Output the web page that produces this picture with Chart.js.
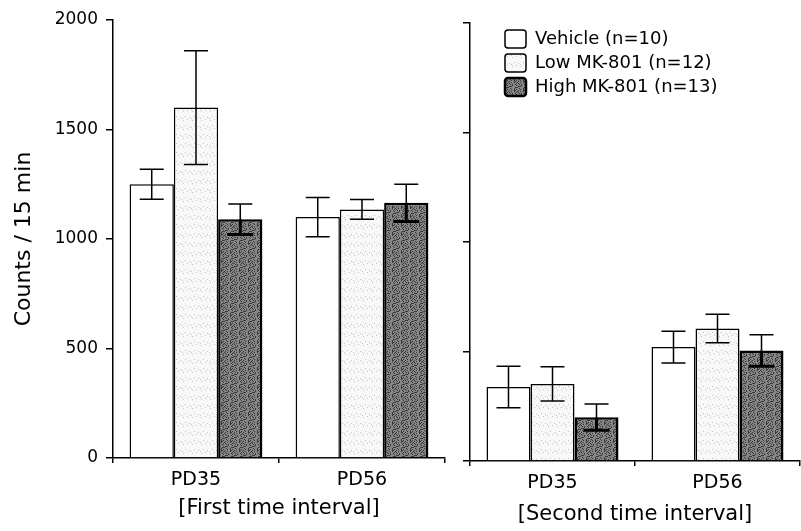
<!DOCTYPE html>
<html>
<head>
<meta charset="utf-8">
<script src="https://cdn.jsdelivr.net/npm/chart.js@4.4.0/dist/chart.umd.min.js"></script>
<style>
  html, body { margin: 0; padding: 0; background: #fff; }
  #wrap { position: relative; width: 801px; height: 531px; }
  #left { position: absolute; left: 0; top: 0; }
  #right { position: absolute; left: 455px; top: 0; }
</style>
</head>
<body>
<div id="wrap">
  <canvas id="left" width="460" height="531"></canvas>
  <canvas id="right" width="346" height="531"></canvas>
</div>
<script>
// categories and series
const groups = ['PD35', 'PD56'];
const seriesNames = ['Vehicle (n=10)', 'Low MK-801 (n=12)', 'High MK-801 (n=13)'];
const yTicks = [0, 500, 1000, 1500, 2000];

// first time interval (means and error bars)
const firstVehicle = [1250, 1100];
const firstLow = [1600, 1135];
const firstHigh = [1090, 1165];
const firstVehicleErr = [68, 90];
const firstLowErr = [260, 45];
const firstHighErr = [70, 85];

// second time interval
const secondVehicle = [338, 520];
const secondLow = [352, 605];
const secondHigh = [200, 505];
const secondVehicleErr = [95, 73];
const secondLowErr = [78, 65];
const secondHighErr = [60, 72];

const FONT = "'DejaVu Sans', Verdana, sans-serif";

// stippled fills, like the scanned print
function makePattern(base, dot, hit) {
    const n = 9;
    const c = document.createElement('canvas');
    c.width = n; c.height = n;
    const g = c.getContext('2d');
    g.fillStyle = base;
    g.fillRect(0, 0, n, n);
    g.fillStyle = dot;
    for (let y = 0; y < n; y++) {
        for (let x = 0; x < n; x++) {
            if ((x * 37 + y * 73 + x * y * 11) % 13 < hit) g.fillRect(x, y, 1, 1);
        }
    }
    return g.createPattern(c, 'repeat');
}
const lowFill = makePattern('#f8f8f8', '#c4c4c4', 1);
const highFill = makePattern('#858585', '#3a3a3a', 4);

// draws the error bars from each dataset's errors list
const errorBars = {
    id: 'errorBars',
    afterDatasetsDraw(chart) {
        const ctx = chart.ctx;
        const y = chart.scales.y;
        chart.data.datasets.forEach((ds, i) => {
            const meta = chart.getDatasetMeta(i);
            meta.data.forEach((bar, j) => {
                const v = ds.data[j], e = ds.errors[j];
                const top = y.getPixelForValue(v + e);
                const mid = y.getPixelForValue(v);
                const bot = y.getPixelForValue(v - e);
                const half = 12;
                ctx.save();
                ctx.strokeStyle = '#000';
                ctx.lineWidth = 1.5;
                ctx.beginPath();
                ctx.moveTo(bar.x, top); ctx.lineTo(bar.x, ds.thickLow ? mid : bot);
                ctx.moveTo(bar.x - half, top); ctx.lineTo(bar.x + half, top);
                if (!ds.thickLow) {
                    ctx.moveTo(bar.x - half, bot); ctx.lineTo(bar.x + half, bot);
                }
                ctx.stroke();
                if (ds.thickLow) {
                    ctx.lineWidth = 3;
                    ctx.beginPath();
                    ctx.moveTo(bar.x, mid); ctx.lineTo(bar.x, bot);
                    ctx.moveTo(bar.x - half - 1, bot); ctx.lineTo(bar.x + half + 1, bot);
                    ctx.stroke();
                }
                ctx.restore();
            });
        });
    }
};

// moves the legend to its spot in the upper left of the right panel
const legendSpot = {
    id: 'legendSpot',
    afterLayout(chart) {
        const lg = chart.legend;
        if (!lg || !chart.options.plugins.legend.display) return;
        const w = lg.width, h = lg.height;
        lg.left = chart.chartArea.left + 29;
        lg.top = chart.chartArea.top + 1;
        lg.right = lg.left + w;
        lg.bottom = lg.top + h;
    }
};

function makeDatasets(veh, low, high, vehErr, lowErr, highErr) {
    return [
        { label: seriesNames[0], data: veh, errors: vehErr, backgroundColor: '#ffffff', borderColor: '#000', borderWidth: 1.5 },
        { label: seriesNames[1], data: low, errors: lowErr, backgroundColor: lowFill, borderColor: '#000', borderWidth: 1.5 },
        { label: seriesNames[2], data: high, errors: highErr, thickLow: true, backgroundColor: highFill, borderColor: '#000', borderWidth: 2.5 }
    ];
}

function makeOptions(opt) {
    return {
        responsive: false,
        animation: false,
        devicePixelRatio: 1,
        layout: { padding: opt.padding },
        datasets: { bar: { categoryPercentage: 0.8, barPercentage: 1.0 } },
        plugins: {
            tooltip: { enabled: false },
            legend: {
                display: opt.legend,
                position: 'chartArea',
                align: 'start',
                labels: {
                    boxWidth: 21, boxHeight: 18, padding: 6, color: '#000',
                    useBorderRadius: true, borderRadius: 3,
                    font: { family: FONT, size: 18 }
                }
            }
        },
        scales: {
            x: {
                grid: { drawOnChartArea: false, offset: true, tickLength: 5, color: '#000', lineWidth: 1.5 },
                border: { color: '#000', width: 1.5 },
                ticks: { color: '#000', font: { family: FONT, size: 19 }, padding: 6 },
                title: {
                    display: true, text: opt.xTitle, color: '#000',
                    font: { family: FONT, size: 21 }, padding: { top: 0, bottom: opt.titleBottom }
                },
                afterFit(s) { s.height = opt.xHeight; }
            },
            y: {
                min: 0, max: 2000,
                afterBuildTicks(s) { s.ticks = yTicks.map(v => ({ value: v })); },
                grid: { drawOnChartArea: false, tickLength: 7, color: '#000', lineWidth: 1.5 },
                border: { color: '#000', width: 1.5 },
                ticks: {
                    display: opt.yLabels, color: '#000', font: { family: FONT, size: 17 }, padding: 8,
                    callback: v => String(v)
                },
                title: {
                    display: opt.yLabels, text: 'Counts / 15 min', color: '#000',
                    font: { family: FONT, size: 22 }, padding: { top: 11, bottom: 0 }
                },
                afterFit(s) { s.width = opt.yWidth; }
            }
        }
    };
}

new Chart(document.getElementById('left'), {
    type: 'bar',
    data: {
        labels: groups,
        datasets: makeDatasets(firstVehicle, firstLow, firstHigh, firstVehicleErr, firstLowErr, firstHighErr)
    },
    options: makeOptions({
        padding: { top: 20, right: 15, bottom: 0, left: 0 },
        legend: false, yLabels: true, yWidth: 113, xHeight: 73, titleBottom: 10,
        xTitle: '[First time interval]'
    }),
    plugins: [errorBars]
});

new Chart(document.getElementById('right'), {
    type: 'bar',
    data: {
        labels: groups,
        datasets: makeDatasets(secondVehicle, secondLow, secondHigh, secondVehicleErr, secondLowErr, secondHighErr)
    },
    options: makeOptions({
        padding: { top: 23, right: 1, bottom: 0, left: 0 },
        legend: true, yLabels: false, yWidth: 15, xHeight: 70, titleBottom: 4,
        xTitle: '[Second time interval]'
    }),
    plugins: [errorBars, legendSpot]
});
</script>
</body>
</html>
